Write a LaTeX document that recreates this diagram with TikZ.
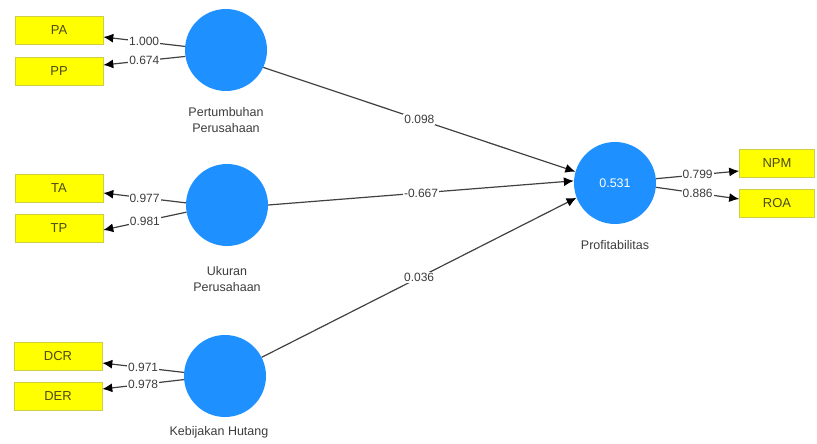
\documentclass[tikz,border=0pt]{standalone}
\usepackage{fontspec}
\setmainfont{Liberation Sans}
\usetikzlibrary{arrows.meta,positioning,calc}
\definecolor{latentblue}{RGB}{30,144,255}
\definecolor{indyellow}{RGB}{255,255,0}
\definecolor{indborder}{RGB}{205,205,70}
\definecolor{edgegray}{RGB}{65,65,65}
\definecolor{txtgray}{RGB}{60,60,60}
\definecolor{indtext}{RGB}{75,75,25}

\begin{document}
\begin{tikzpicture}[x=1pt,y=-1pt,
  every node/.style={font=\fontsize{12.5}{16}\selectfont,text=txtgray},
  lat/.style={circle,fill=latentblue,draw=none,minimum size=82pt,inner sep=0pt},
  ind/.style={rectangle,fill=indyellow,draw=indborder,line width=0.6pt,minimum width=88pt,minimum height=28pt,inner sep=0pt,text=indtext,font=\fontsize{13}{15}\selectfont},
  lbl/.style={align=center,inner sep=0pt},
  val/.style={fill=white,inner sep=1pt,font=\fontsize{12}{13}\selectfont},
  ar/.style={-{Latex[length=10pt,width=9pt,black]},draw=edgegray,line width=1.2pt}]
\useasboundingbox (0,0) rectangle (817,444);
% latent variables
\node[lat] (pert) at (226,50) {};
\node[lat] (ukur) at (227,205) {};
\node[lat] (kebij) at (225,376) {};
\node[lat] (prof) at (615,183) {\textcolor{white}{0.531}};
\node[lbl] (pertlbl) at (226,120) {Pertumbuhan\\Perusahaan};
\node[lbl] (ukurlbl) at (227,279) {Ukuran\\Perusahaan};
\node[lbl] (kebijlbl) at (219,432) {Kebijakan Hutang};
\node[lbl] (proflbl) at (615,245) {Profitabilitas};
% indicators
\node[ind] (pa) at (59,30) {PA};
\node[ind] (pp) at (59,71) {PP};
\node[ind] (ta) at (59,188) {TA};
\node[ind] (tp) at (59,228) {TP};
\node[ind] (dcr) at (58,356) {DCR};
\node[ind] (der) at (58,396) {DER};
\node[ind,minimum width=75pt] (npm) at (777,163) {NPM};
\node[ind,minimum width=75pt] (roa) at (777,203) {ROA};
% outer loadings
\draw[ar] (pert.175) -- node[val] {1.000} ($(pa.east)+(0,7)$);
\draw[ar] (pert.189) -- node[val] {0.674} ($(pp.east)+(0,-6)$);
\draw[ar] (ukur.177) -- node[val] {0.977} ($(ta.east)+(0,5)$);
\draw[ar] (ukur.190) -- node[val] {0.981} ($(tp.east)+(0,2)$);
\draw[ar] (kebij.175) -- node[val] {0.971} ($(dcr.east)+(0,7)$);
\draw[ar] (kebij.185) -- node[val] {0.978} ($(der.east)+(0,-7)$);
\draw[ar] (prof.6) -- node[val] {0.799} ($(npm.west)+(0,8)$);
\draw[ar] (prof.-6) -- node[val] {0.886} ($(roa.west)+(0,-4)$);
% path coefficients
\draw[ar] (pert.-25) -- node[val] {0.098} (prof.164);
\draw[ar] (ukur.0) -- node[val] {-0.667} (prof.177);
\draw[ar] (kebij.27) -- node[val] {0.036} (prof.201);
\end{tikzpicture}
\end{document}
